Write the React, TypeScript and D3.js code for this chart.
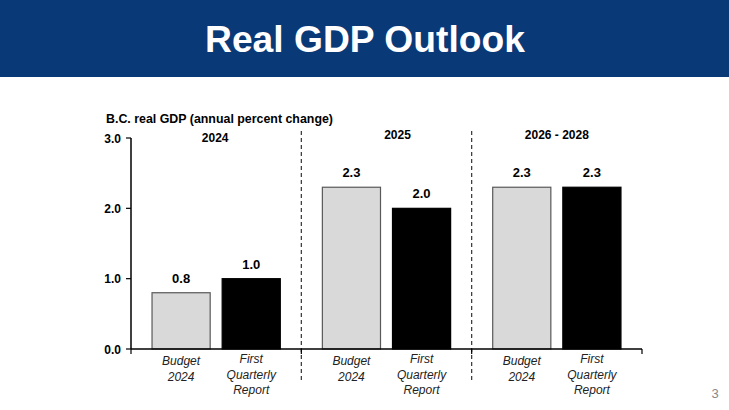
import React from "react";
import * as d3 from "d3";

const groups = ["2024", "2025", "2026 - 2028"];
const seriesNames = ["Budget 2024", "First Quarterly Report"];
const budgetValues = [0.8, 2.3, 2.3];
const firstQuarterlyValues = [1.0, 2.0, 2.3];
const yTicks = [0, 1, 2, 3];
const categoryLines = [["Budget", "2024"], ["First", "Quarterly", "Report"]];

const W = 729;
const H = 410;
const font = "Liberation Sans, Arial, sans-serif";

export default function App() {
  const x0 = d3.scaleBand<string>().domain(groups).range([131, 642]).paddingInner(0).paddingOuter(0);
  const x1 = d3.scaleBand<string>().domain(seriesNames).range([0, x0.bandwidth()]).paddingInner(0.171).paddingOuter(0.3);
  const y = d3.scaleLinear().domain([0, 3]).range([349, 138]);
  const series = [
    { name: seriesNames[0], values: budgetValues, fill: "#D9D9D9", stroke: "#595959" },
    { name: seriesNames[1], values: firstQuarterlyValues, fill: "#000000", stroke: "#000000" },
  ];
  const boundaries = [x0.range()[0], ...groups.map((g) => (x0(g) as number) + x0.bandwidth())];
  const groupLabelDx = [-1, 11, 0];
  const groupLabelY = [142, 139, 139];
  return (
    <svg width={W} height={H} style={{ position: "absolute", left: 0, top: 0, background: "#fff" }}>
      <rect x={0} y={0} width={W} height={77} fill="#0A3977" />
      <text x={365} y={52} textAnchor="middle" fontFamily={font} fontWeight="bold" fontSize={37} fill="#fff"
        textLength={320} lengthAdjust="spacingAndGlyphs">
        Real GDP Outlook
      </text>
      <text x={106} y={123} fontFamily={font} fontWeight="bold" fontSize={12.4} fill="#000">
        B.C. real GDP (annual percent change)
      </text>
      {groups.map((g, i) => (
        <text key={g} x={(x0(g) as number) + x0.bandwidth() / 2 + groupLabelDx[i]} y={groupLabelY[i]}
          textAnchor="middle" fontFamily={font} fontWeight="bold" fontSize={12}>
          {g}
        </text>
      ))}
      {boundaries.slice(1, 3).map((bx, i) => (
        <line key={i} x1={bx} x2={bx} y1={131} y2={383} stroke="#333" strokeWidth={1.2} strokeDasharray="4,3" />
      ))}
      {series.map((s, si) =>
        groups.map((g, gi) => {
          const bx = (x0(g) as number) + (x1(s.name) as number);
          const v = s.values[gi];
          return (
            <g key={s.name + g}>
              <rect x={bx} y={y(v)} width={x1.bandwidth()} height={y(0) - y(v)} fill={s.fill} stroke={s.stroke} strokeWidth={1.2} />
              <text x={bx + x1.bandwidth() / 2} y={y(v) - 10} textAnchor="middle" fontFamily={font} fontWeight="bold" fontSize={13}>
                {v.toFixed(1)}
              </text>
              {categoryLines[si].map((ln, li) => (
                <text key={li} x={bx + x1.bandwidth() / 2} y={(si === 0 ? 365 : 363) + li * 15.5} textAnchor="middle"
                  fontFamily={font} fontStyle="italic" fontSize={12} fill="#222">
                  {ln}
                </text>
              ))}
            </g>
          );
        })
      )}
      <line x1={131} x2={131} y1={138} y2={349} stroke="#000" strokeWidth={1.5} />
      {yTicks.map((t) => (
        <g key={t}>
          <line x1={126} x2={131} y1={y(t)} y2={y(t)} stroke="#000" strokeWidth={1.2} />
          <text x={121} y={y(t) + 4.5} textAnchor="end" fontFamily={font} fontWeight="bold" fontSize={12}>
            {t.toFixed(1)}
          </text>
        </g>
      ))}
      <line x1={131} x2={642} y1={349} y2={349} stroke="#000" strokeWidth={1.5} />
      {boundaries.map((bx, i) => (
        <line key={i} x1={bx} x2={bx} y1={349} y2={354} stroke="#000" strokeWidth={1.2} />
      ))}
      <text x={715} y={398} textAnchor="middle" fontFamily={font} fontSize={13} fill="#888">3</text>
    </svg>
  );
}
